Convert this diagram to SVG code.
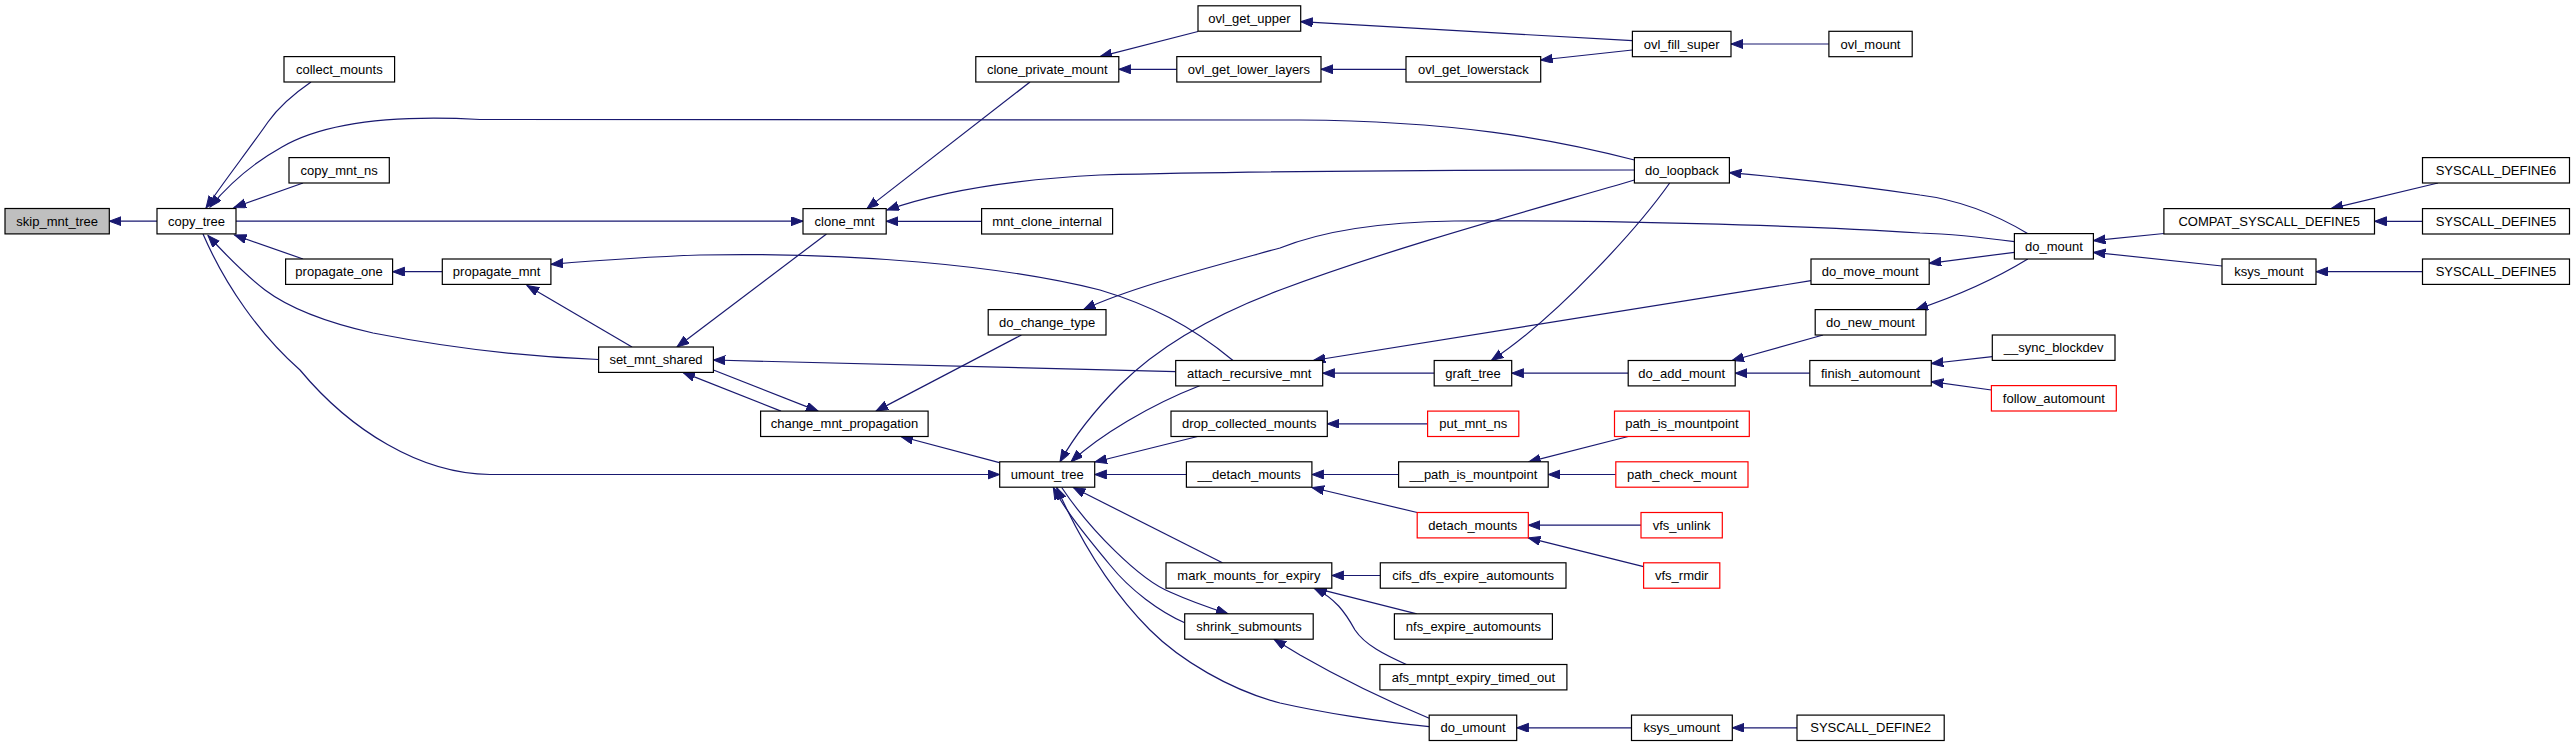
<svg xmlns="http://www.w3.org/2000/svg" width="2575" height="747" viewBox="0 0 2575 747">
<style>
.n rect{fill:#fff;stroke:#000;stroke-width:1.2}
.n.root rect{fill:#bfbfbf}
.n.trunc rect{stroke:#ff0000}
.n text{font-family:"Liberation Sans",Arial,Helvetica,sans-serif;font-size:13px;text-anchor:middle;fill:#000}
#edges path{fill:none;stroke:#191970;stroke-width:1.2;marker-end:url(#arr)}
</style>
<defs>
<marker id="arr" markerWidth="14" markerHeight="10" refX="12" refY="4.5" orient="auto" markerUnits="userSpaceOnUse">
<path d="M0,0 L12,4.5 L0,9 z" fill="#191970" stroke="#191970" stroke-width="1"/>
</marker>
</defs>
<rect width="2575" height="747" fill="#fff"/>
<g id="edges">
<path d="M157,221.2 L109.3,221.2"/>
<path d="M311,82 C295,93 280,105 268,122 C250,148 225,180 206,208"/>
<path d="M1634.4,160 C1550,138 1450,121 1300,120 L480,119.5 C380,114 320,125 282,147 C255,162 230,183 210,207"/>
<path d="M303,183 L234,207.5"/>
<path d="M236,221.2 L803,221.2"/>
<path d="M303,259 L234.5,235"/>
<path d="M598.6,359.5 C530,357 450,348 373,333 C320,321 285,305 265,290 C243,273 225,254 208,235.5"/>
<path d="M203,234 C225,285 260,335 300,370 C350,430 420,474 490,474.5 L999.7,474.5"/>
<path d="M442.3,271.7 L392.6,271.7"/>
<path d="M1233,360.5 C1190,325 1150,305 1100,290 C1000,265 850,252 700,255 C640,257 590,261 551,264.3"/>
<path d="M632,347 L527,285.5"/>
<path d="M1030,82 L867,208.6"/>
<path d="M1634.4,170 C1500,170 1300,170 1100,175 C1000,180 930,195 887,210"/>
<path d="M981.6,221.3 L886.2,221.3"/>
<path d="M826.5,234 L677,347"/>
<path d="M1198,31.5 L1100,56.6"/>
<path d="M1176.8,69.3 L1118.8,69.3"/>
<path d="M1632.4,40.7 L1300.7,21.7"/>
<path d="M1632.4,50 L1540.7,60"/>
<path d="M1406,69.3 L1321,69.3"/>
<path d="M1828.9,44 L1731,44"/>
<path d="M2028,233.7 C1995,214 1960,200 1920,195 C1860,186 1790,178 1729.4,172.7"/>
<path d="M1669.7,183 C1640,225 1560,315 1491.4,360.5"/>
<path d="M2014.4,241.7 C1980,237 1950,234 1920,233 C1800,225 1600,220 1454,221 C1380,222 1320,232 1280,248 C1200,270 1130,288 1083.6,309.6"/>
<path d="M2014.4,252.3 L1929.2,263.3"/>
<path d="M2027.8,259 C2000,276 1960,295 1916,309.6"/>
<path d="M2164,233.5 L2093.4,240.7"/>
<path d="M2222,266 L2093.4,252.3"/>
<path d="M2438,183 L2331,208.6"/>
<path d="M2422.5,221.3 L2374.5,221.3"/>
<path d="M2422.5,271.7 L2316,271.7"/>
<path d="M1811,280.7 L1313.3,360.5"/>
<path d="M1434.2,373.2 L1322.7,373.2"/>
<path d="M1628.2,373.2 L1511.7,373.2"/>
<path d="M1823,335 L1732,360.5"/>
<path d="M1809.8,373.2 L1735.2,373.2"/>
<path d="M1992.3,356.7 L1931.3,363.5"/>
<path d="M1991.4,390 L1931.3,381.7"/>
<path d="M1175.7,371.7 L713.4,360"/>
<path d="M781,411.1 L683,372.4"/>
<path d="M713.4,370 L818,411.1"/>
<path d="M1021.4,335 L876,411.1"/>
<path d="M999.4,462.7 L901,436.5"/>
<path d="M1634.4,180 C1550,205 1400,245 1280,290 C1200,320 1150,355 1120,385 C1095,410 1075,435 1060,461.8"/>
<path d="M1199.6,385.7 C1150,405 1100,435 1071,461.8"/>
<path d="M1197.6,436.5 L1095,462"/>
<path d="M1186.4,474.5 L1094.7,474.5"/>
<path d="M1222.4,562.8 L1073.3,487.5"/>
<path d="M1061.7,487.5 C1090,530 1140,580 1170,592 C1190,601 1210,608 1228,613.8"/>
<path d="M1184.7,622.7 C1160,612 1130,590 1110,565 C1085,535 1065,510 1053.3,487.5"/>
<path d="M1429.2,726.7 C1380,722 1320,712 1280,703 C1230,690 1180,660 1150,630 C1110,590 1080,540 1056.7,487.5"/>
<path d="M1427.6,423.8 L1327.3,423.8"/>
<path d="M1398.6,474.5 L1311.9,474.5"/>
<path d="M1417.2,512.5 L1312,487.5"/>
<path d="M1628.2,436.5 L1528.7,461.8"/>
<path d="M1615.8,474.5 L1548.2,474.5"/>
<path d="M1641,525.2 L1528.3,525.2"/>
<path d="M1643.6,566.7 L1528.3,537.9"/>
<path d="M1380.3,575.5 L1331.8,575.5"/>
<path d="M1416.8,613.8 L1315,588.2"/>
<path d="M1406.4,664.5 C1385,655 1365,645 1355,630 C1345,612 1335,598 1314,588.2"/>
<path d="M1429.2,718.3 C1390,702 1340,678 1300,655 L1274,639.2"/>
<path d="M1631.5,727.8 L1516.7,727.8"/>
<path d="M1797,727.8 L1732.3,727.8"/>
</g>
<g id="skip_mnt_tree" class="n root"><rect x="5" y="208.5" width="104.3" height="25.4"/><text x="57.2" y="225.7">skip_mnt_tree</text></g>
<g id="copy_tree" class="n"><rect x="157" y="208.5" width="79" height="25.4"/><text x="196.5" y="225.7">copy_tree</text></g>
<g id="collect_mounts" class="n"><rect x="284" y="56.6" width="110.6" height="25.4"/><text x="339.3" y="73.8">collect_mounts</text></g>
<g id="copy_mnt_ns" class="n"><rect x="289" y="157.6" width="100.3" height="25.4"/><text x="339.2" y="174.8">copy_mnt_ns</text></g>
<g id="propagate_one" class="n"><rect x="285.6" y="259" width="107" height="25.4"/><text x="339.1" y="276.2">propagate_one</text></g>
<g id="propagate_mnt" class="n"><rect x="442.3" y="259" width="108.6" height="25.4"/><text x="496.6" y="276.2">propagate_mnt</text></g>
<g id="set_mnt_shared" class="n"><rect x="598.6" y="347" width="114.8" height="25.4"/><text x="656" y="364.2">set_mnt_shared</text></g>
<g id="change_mnt_propagation" class="n"><rect x="760.6" y="411.1" width="167.5" height="25.4"/><text x="844.4" y="428.3">change_mnt_propagation</text></g>
<g id="clone_mnt" class="n"><rect x="803" y="208.6" width="83.2" height="25.4"/><text x="844.6" y="225.8">clone_mnt</text></g>
<g id="clone_private_mount" class="n"><rect x="975.8" y="56.6" width="143" height="25.4"/><text x="1047.3" y="73.8">clone_private_mount</text></g>
<g id="mnt_clone_internal" class="n"><rect x="981.6" y="208.6" width="131" height="25.4"/><text x="1047.1" y="225.8">mnt_clone_internal</text></g>
<g id="do_change_type" class="n"><rect x="988.2" y="309.6" width="117.8" height="25.4"/><text x="1047.1" y="326.8">do_change_type</text></g>
<g id="umount_tree" class="n"><rect x="999.7" y="461.8" width="95" height="25.4"/><text x="1047.2" y="479">umount_tree</text></g>
<g id="ovl_get_upper" class="n"><rect x="1198" y="5.8" width="102.7" height="25.4"/><text x="1249.4" y="23">ovl_get_upper</text></g>
<g id="ovl_get_lower_layers" class="n"><rect x="1176.8" y="56.6" width="144.2" height="25.4"/><text x="1248.9" y="73.8">ovl_get_lower_layers</text></g>
<g id="attach_recursive_mnt" class="n"><rect x="1175.7" y="360.5" width="147" height="25.4"/><text x="1249.2" y="377.7">attach_recursive_mnt</text></g>
<g id="drop_collected_mounts" class="n"><rect x="1171" y="411.1" width="156.3" height="25.4"/><text x="1249.2" y="428.3">drop_collected_mounts</text></g>
<g id="__detach_mounts" class="n"><rect x="1186.4" y="461.8" width="125.5" height="25.4"/><text x="1249.2" y="479">__detach_mounts</text></g>
<g id="mark_mounts_for_expiry" class="n"><rect x="1166" y="562.8" width="165.8" height="25.4"/><text x="1248.9" y="580">mark_mounts_for_expiry</text></g>
<g id="shrink_submounts" class="n"><rect x="1184.7" y="613.8" width="128.5" height="25.4"/><text x="1249" y="631">shrink_submounts</text></g>
<g id="ovl_get_lowerstack" class="n"><rect x="1406" y="56.6" width="134.7" height="25.4"/><text x="1473.4" y="73.8">ovl_get_lowerstack</text></g>
<g id="graft_tree" class="n"><rect x="1434.2" y="360.5" width="77.5" height="25.4"/><text x="1473" y="377.7">graft_tree</text></g>
<g id="put_mnt_ns" class="n trunc"><rect x="1427.6" y="411.1" width="91.2" height="25.4"/><text x="1473.2" y="428.3">put_mnt_ns</text></g>
<g id="__path_is_mountpoint" class="n"><rect x="1398.6" y="461.8" width="149.6" height="25.4"/><text x="1473.4" y="479">__path_is_mountpoint</text></g>
<g id="detach_mounts" class="n trunc"><rect x="1417.2" y="512.5" width="111.1" height="25.4"/><text x="1472.8" y="529.7">detach_mounts</text></g>
<g id="cifs_dfs_expire_automounts" class="n"><rect x="1380.3" y="562.8" width="185.7" height="25.4"/><text x="1473.2" y="580">cifs_dfs_expire_automounts</text></g>
<g id="nfs_expire_automounts" class="n"><rect x="1394.4" y="613.8" width="158" height="25.4"/><text x="1473.4" y="631">nfs_expire_automounts</text></g>
<g id="afs_mntpt_expiry_timed_out" class="n"><rect x="1379.9" y="664.5" width="187" height="25.4"/><text x="1473.4" y="681.7">afs_mntpt_expiry_timed_out</text></g>
<g id="do_umount" class="n"><rect x="1429.2" y="715.1" width="87.5" height="25.4"/><text x="1473" y="732.3">do_umount</text></g>
<g id="ovl_fill_super" class="n"><rect x="1632.4" y="31.3" width="98.6" height="25.4"/><text x="1681.7" y="48.5">ovl_fill_super</text></g>
<g id="do_loopback" class="n"><rect x="1634.4" y="157.6" width="95" height="25.4"/><text x="1681.9" y="174.8">do_loopback</text></g>
<g id="do_add_mount" class="n"><rect x="1628.2" y="360.5" width="107" height="25.4"/><text x="1681.7" y="377.7">do_add_mount</text></g>
<g id="path_is_mountpoint" class="n trunc"><rect x="1614.5" y="411.1" width="134.8" height="25.4"/><text x="1681.9" y="428.3">path_is_mountpoint</text></g>
<g id="path_check_mount" class="n trunc"><rect x="1615.8" y="461.8" width="132.2" height="25.4"/><text x="1681.9" y="479">path_check_mount</text></g>
<g id="vfs_unlink" class="n trunc"><rect x="1641" y="512.5" width="81.3" height="25.4"/><text x="1681.6" y="529.7">vfs_unlink</text></g>
<g id="vfs_rmdir" class="n trunc"><rect x="1643.6" y="562.8" width="76.2" height="25.4"/><text x="1681.7" y="580">vfs_rmdir</text></g>
<g id="ksys_umount" class="n"><rect x="1631.5" y="715.1" width="100.8" height="25.4"/><text x="1681.9" y="732.3">ksys_umount</text></g>
<g id="ovl_mount" class="n"><rect x="1828.9" y="31.3" width="83.3" height="25.4"/><text x="1870.5" y="48.5">ovl_mount</text></g>
<g id="do_move_mount" class="n"><rect x="1811" y="259" width="118.2" height="25.4"/><text x="1870.1" y="276.2">do_move_mount</text></g>
<g id="do_new_mount" class="n"><rect x="1815.2" y="309.6" width="110.7" height="25.4"/><text x="1870.5" y="326.8">do_new_mount</text></g>
<g id="finish_automount" class="n"><rect x="1809.8" y="360.5" width="121.5" height="25.4"/><text x="1870.5" y="377.7">finish_automount</text></g>
<g id="SYSCALL_DEFINE2" class="n"><rect x="1797" y="715.1" width="147.2" height="25.4"/><text x="1870.6" y="732.3">SYSCALL_DEFINE2</text></g>
<g id="do_mount" class="n"><rect x="2014.4" y="233.6" width="79" height="25.4"/><text x="2053.9" y="250.8">do_mount</text></g>
<g id="__sync_blockdev" class="n"><rect x="1992.3" y="335" width="122.7" height="25.4"/><text x="2053.6" y="352.2">__sync_blockdev</text></g>
<g id="follow_automount" class="n trunc"><rect x="1991.4" y="385.6" width="124.9" height="25.4"/><text x="2053.8" y="402.8">follow_automount</text></g>
<g id="COMPAT_SYSCALL_DEFINE5" class="n"><rect x="2163.9" y="208.6" width="210.6" height="25.4"/><text x="2269.2" y="225.8">COMPAT_SYSCALL_DEFINE5</text></g>
<g id="ksys_mount" class="n"><rect x="2222" y="259" width="94" height="25.4"/><text x="2269" y="276.2">ksys_mount</text></g>
<g id="SYSCALL_DEFINE6" class="n"><rect x="2422.5" y="157.6" width="147" height="25.4"/><text x="2496" y="174.8">SYSCALL_DEFINE6</text></g>
<g id="SYSCALL_DEFINE5_a" class="n"><rect x="2422.5" y="208.6" width="147" height="25.4"/><text x="2496" y="225.8">SYSCALL_DEFINE5</text></g>
<g id="SYSCALL_DEFINE5_b" class="n"><rect x="2422.5" y="259" width="147" height="25.4"/><text x="2496" y="276.2">SYSCALL_DEFINE5</text></g>
</svg>
